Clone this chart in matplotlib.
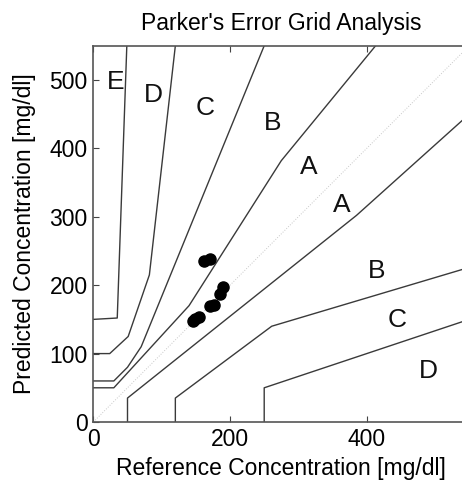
import matplotlib
matplotlib.use("Agg")
import matplotlib.pyplot as plt

plt.rcParams['font.family'] = ['Liberation Sans', 'DejaVu Sans']

# zone boundaries (reference, predicted)
a_upper_x = [0, 30, 140, 275, 413]
a_upper_y = [50, 50, 170, 382, 550]
a_lower_x = [50, 50, 385, 550]
a_lower_y = [0, 35, 302, 450]
b_upper_x = [0, 30, 50, 70, 250]
b_upper_y = [60, 60, 80, 110, 550]
b_lower_x = [120, 120, 261, 550]
b_lower_y = [0, 35, 140, 226]
c_upper_x = [0, 24, 51, 82, 120]
c_upper_y = [100, 100, 125, 215, 550]
c_lower_x = [250, 250, 550]
c_lower_y = [0, 50, 150]
d_upper_x = [0, 35, 49]
d_upper_y = [150, 152, 550]

# measurements
ref = [162, 170, 190, 186, 171, 176, 149, 154, 146]
pred = [236, 238, 197, 187, 169, 171, 150, 153, 147]

zone_labels = ["E", "D", "C", "B", "A", "A", "B", "C", "D"]
zone_lx = [32, 88, 163, 263, 315, 363, 414, 444, 490]
zone_ly = [497, 478, 459, 437, 373, 317, 220, 149, 74]

fig = plt.figure(figsize=(4.62, 4.83), dpi=100)
ax = fig.add_axes([0.202, 0.1263, 0.8137, 0.779])

ax.plot([0, 550], [0, 550], color="#c8c8c8", lw=0.7, ls=":")
line_kw = dict(color="#3a3a3a", lw=1.0)
for xs, ys in [(a_upper_x, a_upper_y), (a_lower_x, a_lower_y),
               (b_upper_x, b_upper_y), (b_lower_x, b_lower_y),
               (c_upper_x, c_upper_y), (c_lower_x, c_lower_y),
               (d_upper_x, d_upper_y)]:
    ax.plot(xs, ys, **line_kw)

ax.plot(ref, pred, "o", color="black", ms=8)

for lab, lx, ly in zip(zone_labels, zone_lx, zone_ly):
    ax.text(lx, ly, lab, fontsize=19, ha="center", va="center", color="#111111")

ax.set_xlim(0, 550)
ax.set_ylim(0, 550)
ax.set_xticks([0, 200, 400])
ax.set_yticks([0, 100, 200, 300, 400, 500])
ax.tick_params(direction="in", length=4, labelsize=16.5, top=True, right=True,
               color="#444444", pad=4)
for sp in ax.spines.values():
    sp.set_color("#555555")
    sp.set_linewidth(1.2)

ax.set_title("Parker's Error Grid Analysis", fontsize=16.5, pad=11)
ax.set_xlabel("Reference Concentration [mg/dl]", fontsize=16.5, labelpad=5)
ax.set_ylabel("Predicted Concentration [mg/dl]", fontsize=16.5, labelpad=10)

fig.savefig("out.png", dpi=100)
